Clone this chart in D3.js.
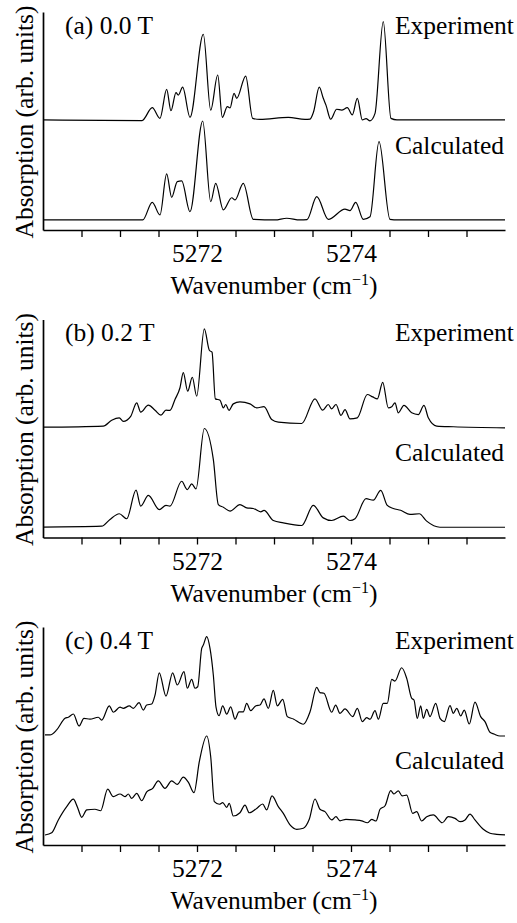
<!DOCTYPE html>
<html>
<head>
<meta charset="utf-8">
<script src="https://cdn.jsdelivr.net/npm/d3@7"></script>
<style>
  body { margin: 0; background: #ffffff; }
  svg { display: block; }
  text { font-family: "Liberation Serif", "DejaVu Serif", serif; fill: #000; }
</style>
</head>
<body>
<svg width="517" height="923"></svg>
<script>
// подписи панелей и кривых
let panelLabels = ["(a) 0.0 T", "(b) 0.2 T", "(c) 0.4 T"];
let seriesNames = ["Experiment", "Calculated"];

// деления оси OX
let xTicks = [5270.5, 5271, 5271.5, 5272, 5272.5, 5273, 5273.5, 5274, 5274.5, 5275, 5275.5];
let labeledTicks = [5272, 5274];

// спектры: [волновое число, поглощение (отн. ед.)]
let expA = [
  [5270.000, 5.05], [5271.286, 5.02], [5271.419, 5.61], [5271.519, 5.12], [5271.606, 6.45],
  [5271.662, 5.47], [5271.727, 6.30], [5271.757, 6.19], [5271.814, 6.55], [5271.909, 5.17],
  [5272.082, 8.98], [5272.178, 5.50], [5272.269, 7.11], [5272.329, 5.17], [5272.394, 5.66],
  [5272.429, 5.60], [5272.481, 6.27], [5272.516, 6.04], [5272.632, 7.06], [5272.723, 5.12],
  [5272.818, 5.07], [5273.186, 5.17], [5273.403, 5.07], [5273.468, 5.09], [5273.513, 5.41],
  [5273.588, 6.55], [5273.640, 6.04], [5273.675, 5.73], [5273.736, 5.08], [5273.814, 5.54],
  [5273.879, 5.50], [5273.952, 5.61], [5274.017, 5.28], [5274.082, 6.04], [5274.147, 5.05],
  [5274.195, 5.11], [5274.247, 5.01], [5274.312, 5.35], [5274.419, 9.56], [5274.519, 5.12],
  [5274.597, 5.05], [5276.000, 5.05]
];
let calcA = [
  [5270.000, 0.46], [5271.295, 0.46], [5271.419, 1.27], [5271.519, 0.69], [5271.606, 2.57],
  [5271.671, 1.50], [5271.744, 2.22], [5271.801, 2.25], [5271.909, 0.84], [5272.074, 5.00],
  [5272.178, 1.30], [5272.243, 2.14], [5272.342, 0.92], [5272.451, 1.48], [5272.494, 1.38],
  [5272.601, 2.14], [5272.731, 0.49], [5273.013, 0.46], [5273.165, 0.54], [5273.338, 0.46],
  [5273.429, 0.48], [5273.555, 1.53], [5273.705, 0.49], [5273.922, 0.96], [5273.987, 0.89],
  [5274.061, 1.27], [5274.160, 0.49], [5274.247, 0.61], [5274.364, 4.05], [5274.506, 0.49],
  [5274.610, 0.46], [5276.000, 0.46]
];
let expB = [
  [5270.000, 5.06], [5270.783, 5.11], [5270.892, 5.38], [5270.991, 5.49], [5271.043, 5.33],
  [5271.139, 5.56], [5271.217, 6.18], [5271.269, 5.75], [5271.368, 6.07], [5271.455, 5.84],
  [5271.532, 5.61], [5271.597, 5.84], [5271.649, 5.83], [5271.714, 6.33], [5271.779, 6.87],
  [5271.822, 7.56], [5271.879, 6.71], [5271.939, 7.35], [5271.996, 6.48], [5272.095, 9.57],
  [5272.160, 8.59], [5272.195, 8.50], [5272.238, 6.36], [5272.299, 6.30], [5272.342, 5.95],
  [5272.373, 6.10], [5272.416, 5.83], [5272.471, 6.13], [5272.558, 6.22], [5272.688, 6.13],
  [5272.775, 5.95], [5272.870, 6.00], [5272.970, 5.41], [5273.056, 5.29], [5273.360, 5.23],
  [5273.532, 6.36], [5273.632, 5.84], [5273.705, 6.10], [5273.749, 5.90], [5273.805, 6.10],
  [5273.870, 5.60], [5273.922, 5.87], [5273.987, 5.44], [5274.082, 5.49], [5274.212, 6.56],
  [5274.282, 6.45], [5274.342, 6.36], [5274.412, 7.12], [5274.484, 5.95], [5274.529, 6.00],
  [5274.571, 6.18], [5274.614, 5.72], [5274.688, 6.06], [5274.788, 5.72], [5274.874, 5.64],
  [5274.948, 6.06], [5275.004, 5.49], [5275.113, 5.11], [5275.329, 5.08], [5276.000, 5.03]
];
let calcB = [
  [5270.000, 0.48], [5270.762, 0.52], [5270.870, 0.83], [5270.991, 1.09], [5271.087, 0.86],
  [5271.208, 2.17], [5271.269, 1.44], [5271.368, 1.93], [5271.510, 1.28], [5271.597, 1.47],
  [5271.649, 1.44], [5271.801, 2.58], [5271.874, 2.20], [5271.931, 2.46], [5271.987, 2.23],
  [5272.095, 5.00], [5272.212, 3.58], [5272.277, 1.51], [5272.342, 1.39], [5272.429, 1.21],
  [5272.558, 1.51], [5272.645, 1.36], [5272.731, 1.33], [5272.827, 1.18], [5272.870, 1.24],
  [5272.991, 0.78], [5273.121, 0.67], [5273.360, 0.55], [5273.510, 1.47], [5273.640, 0.90],
  [5273.749, 0.78], [5273.900, 0.98], [5273.987, 0.78], [5274.052, 0.86], [5274.195, 1.78],
  [5274.290, 1.71], [5274.386, 2.16], [5274.471, 1.47], [5274.549, 1.33], [5274.645, 1.25],
  [5274.766, 1.06], [5274.887, 1.09], [5274.983, 0.75], [5275.156, 0.47], [5276.000, 0.47]
];
let expC = [
  [5270.026, 5.05], [5270.091, 5.05], [5270.178, 5.28], [5270.286, 5.81], [5270.329, 5.86],
  [5270.394, 6.01], [5270.468, 5.46], [5270.532, 5.81], [5270.610, 5.77], [5270.718, 5.86],
  [5270.762, 5.73], [5270.861, 6.38], [5270.913, 6.09], [5271.000, 6.32], [5271.043, 6.27],
  [5271.121, 6.38], [5271.173, 6.27], [5271.247, 6.53], [5271.303, 6.19], [5271.347, 6.42],
  [5271.412, 6.47], [5271.455, 6.88], [5271.510, 7.90], [5271.597, 6.83], [5271.684, 7.90],
  [5271.744, 7.34], [5271.831, 7.95], [5271.874, 7.19], [5271.931, 7.60], [5271.974, 7.19],
  [5272.009, 7.26], [5272.061, 9.02], [5272.082, 9.17], [5272.126, 9.56], [5272.169, 9.02],
  [5272.212, 7.80], [5272.247, 6.32], [5272.286, 5.93], [5272.334, 6.38], [5272.386, 6.00],
  [5272.438, 6.34], [5272.494, 5.77], [5272.545, 6.11], [5272.601, 6.11], [5272.645, 6.50],
  [5272.697, 6.16], [5272.766, 6.39], [5272.818, 6.42], [5272.870, 6.70], [5272.926, 6.27],
  [5272.991, 7.09], [5273.043, 6.38], [5273.113, 6.68], [5273.173, 5.89], [5273.251, 5.78],
  [5273.381, 5.54], [5273.468, 6.11], [5273.555, 7.23], [5273.597, 6.99], [5273.649, 6.96],
  [5273.749, 6.09], [5273.801, 6.42], [5273.857, 6.04], [5273.922, 6.24], [5274.022, 5.89],
  [5274.082, 6.27], [5274.147, 5.66], [5274.204, 5.84], [5274.247, 5.77], [5274.312, 6.16],
  [5274.355, 5.77], [5274.419, 6.50], [5274.471, 6.50], [5274.529, 7.60], [5274.571, 7.52],
  [5274.658, 8.13], [5274.723, 7.65], [5274.788, 6.73], [5274.818, 6.65], [5274.861, 5.81],
  [5274.905, 6.38], [5274.939, 5.81], [5274.983, 6.22], [5275.026, 5.89], [5275.100, 6.50],
  [5275.156, 5.81], [5275.212, 5.66], [5275.286, 6.39], [5275.329, 6.04], [5275.373, 6.27],
  [5275.425, 5.92], [5275.471, 6.19], [5275.536, 5.55], [5275.610, 6.55], [5275.684, 5.89],
  [5275.740, 5.66], [5275.805, 5.17], [5275.857, 5.09], [5275.935, 5.00], [5276.000, 5.00]
];
let calcC = [
  [5270.026, 0.46], [5270.113, 0.56], [5270.199, 1.15], [5270.308, 1.76], [5270.394, 2.10],
  [5270.445, 1.76], [5270.503, 1.27], [5270.568, 1.61], [5270.675, 1.64], [5270.749, 1.57],
  [5270.840, 2.56], [5270.913, 2.22], [5271.000, 2.34], [5271.065, 2.22], [5271.108, 2.34],
  [5271.152, 2.14], [5271.217, 2.37], [5271.282, 2.03], [5271.347, 2.44], [5271.425, 2.60],
  [5271.497, 2.94], [5271.584, 2.60], [5271.671, 2.94], [5271.744, 2.78], [5271.822, 3.11],
  [5271.887, 2.88], [5271.961, 2.40], [5272.030, 3.82], [5272.126, 5.00], [5272.178, 4.05],
  [5272.225, 1.99], [5272.290, 1.87], [5272.334, 1.94], [5272.386, 1.73], [5272.419, 1.91],
  [5272.471, 1.33], [5272.558, 1.48], [5272.623, 1.83], [5272.679, 1.48], [5272.775, 1.68],
  [5272.853, 1.88], [5272.905, 1.61], [5272.974, 2.25], [5273.056, 1.76], [5273.121, 1.45],
  [5273.208, 0.92], [5273.295, 0.72], [5273.381, 0.77], [5273.458, 1.18], [5273.532, 2.11],
  [5273.597, 1.64], [5273.662, 1.53], [5273.749, 1.15], [5273.805, 1.30], [5273.857, 1.11],
  [5273.935, 1.18], [5274.052, 1.15], [5274.139, 1.11], [5274.212, 1.02], [5274.269, 1.18],
  [5274.325, 1.10], [5274.377, 1.64], [5274.442, 1.80], [5274.516, 2.49], [5274.558, 2.34],
  [5274.614, 2.48], [5274.666, 2.25], [5274.723, 2.29], [5274.801, 1.45], [5274.853, 1.53],
  [5274.918, 1.10], [5274.983, 1.30], [5275.069, 1.38], [5275.186, 1.02], [5275.264, 1.30],
  [5275.351, 1.22], [5275.416, 1.07], [5275.481, 1.15], [5275.545, 1.42], [5275.610, 1.15],
  [5275.718, 0.72], [5275.805, 0.54], [5275.892, 0.49], [5276.000, 0.46]
];

let expSeries = [expA, expB, expC];
let calcSeries = [calcA, calcB, calcC];

// размеры
let width = 517;
let marginLeft = 43;
let marginRight = 12;
let panelTop = [12, 319.5, 627];
let panelHeight = 218;
let fontSize = 25.5;

let svg = d3.select("svg");

// шкала OX общая для всех панелей
let scaleX = d3.scaleLinear()
    .domain([5270, 5276])
    .range([marginLeft, width - marginRight]);

panelLabels.forEach(function (label, i) {
    let top = panelTop[i];
    let bottom = top + panelHeight;

    let scaleY = d3.scaleLinear()
        .domain([0, 10])
        .range([bottom, top]);

    let g = svg.append("g").attr("class", "panel");

    // ось OX
    let axisX = d3.axisBottom(scaleX)
        .tickValues(xTicks)
        .tickSize(7)
        .tickSizeOuter(0)
        .tickPadding(7)
        .tickFormat(d => labeledTicks.includes(d) ? d3.format("d")(d) : "");

    let gx = g.append("g")
        .attr("transform", `translate(0, ${bottom})`)
        .call(axisX)
        .attr("font-family", "Liberation Serif, DejaVu Serif, serif")
        .attr("font-size", fontSize);
    gx.select(".domain").attr("stroke-width", 1.7);
    gx.selectAll(".tick line").attr("stroke-width", 1.3);
    gx.selectAll(".tick text").attr("fill", "#000");

    // ось OY без делений
    let axisY = d3.axisLeft(scaleY).tickValues([]).tickSizeOuter(0);
    g.append("g")
        .attr("transform", `translate(${marginLeft}, 0)`)
        .call(axisY)
        .select(".domain")
        .attr("stroke-width", 1.7);

    // кривые
    let line = d3.line()
        .x(d => scaleX(d[0]))
        .y(d => scaleY(d[1]))
        .curve(d3.curveMonotoneX);

    [expSeries[i], calcSeries[i]].forEach(function (data) {
        g.append("path")
            .datum(data)
            .attr("fill", "none")
            .attr("stroke", "#000")
            .attr("stroke-width", 1.2)
            .attr("stroke-linejoin", "round")
            .attr("d", line);
    });

    // подписи
    g.append("text")
        .attr("x", 65)
        .attr("y", top + 21.5)
        .attr("font-size", fontSize)
        .text(label);

    seriesNames.forEach(function (name, k) {
        g.append("text")
            .attr("x", 395)
            .attr("y", top + 21.5 + k * 120)
            .attr("font-size", fontSize)
            .text(name);
    });

    // подпись оси OX
    let xLabel = g.append("text")
        .attr("x", (scaleX.range()[0] + scaleX.range()[1]) / 2)
        .attr("y", bottom + 64)
        .attr("text-anchor", "middle")
        .attr("font-size", fontSize);
    xLabel.append("tspan").text("Wavenumber (cm");
    xLabel.append("tspan").attr("font-size", 16).attr("dy", -9).text("\u22121");
    xLabel.append("tspan").attr("dy", 9).text(")");

    // подпись оси OY
    g.append("text")
        .attr("transform", `translate(33, ${top + 110}) rotate(-90)`)
        .attr("text-anchor", "middle")
        .attr("font-size", fontSize)
        .text("Absorption (arb. units)");
});
</script>
</body>
</html>
